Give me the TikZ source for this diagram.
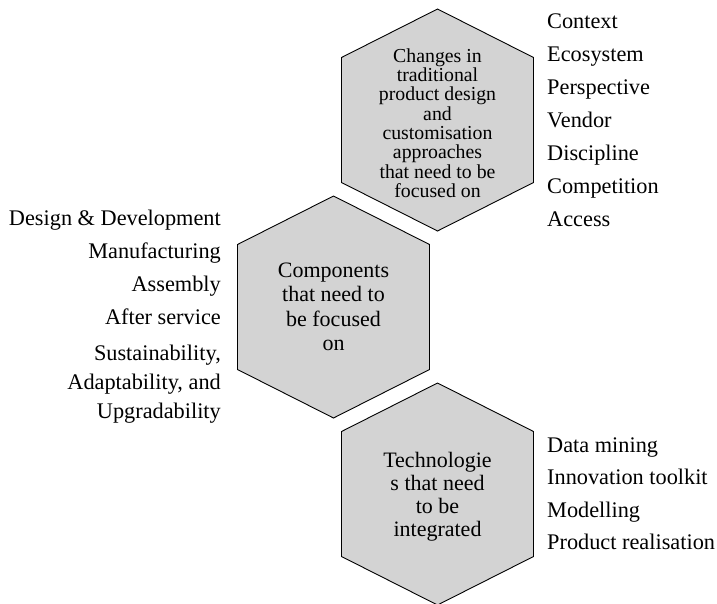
\documentclass[tikz,border=0pt]{standalone}
\usepackage{fontspec}
\setmainfont{Liberation Serif}
\usepackage{xcolor}
\usetikzlibrary{calc}

\definecolor{hexgray}{HTML}{D3D3D3}
\tikzset{
  hex/.style={draw=black, fill=hexgray, line width=0.9pt, line join=miter},
  hextext/.style={align=center, inner sep=0pt},
  item/.style={inner sep=0pt, font=\fontsize{22.3}{24}\selectfont}
}
% one stretched hexagon, pointy top, around a named coordinate
\newcommand{\hexat}[1]{%
  \draw[hex] ($(#1)+(0,-111)$) -- ($(#1)+(96,-62.5)$) -- ($(#1)+(96,62.5)$)
    -- ($(#1)+(0,111)$) -- ($(#1)+(-96,62.5)$) -- ($(#1)+(-96,-62.5)$) -- cycle;}

\begin{document}
\begin{tikzpicture}[x=1pt, y=-1pt]
\useasboundingbox (0,0) rectangle (717,603);
\coordinate (c1) at (437.5,120);
\coordinate (c2) at (333.5,307);
\coordinate (c3) at (437.5,494);
\hexat{c1}
\hexat{c2}
\hexat{c3}
\node[hextext, font=\fontsize{19.8}{19.3}\selectfont] (approaches) at ($(c1)+(0,3)$)
  {Changes in\\traditional\\product design\\and\\customisation\\approaches\\that need to be\\focused on};
\node[hextext, font=\fontsize{22}{24.5}\selectfont] (components) at (c2)
  {Components\\that need to\\be focused\\on};
\node[hextext, font=\fontsize{22}{23}\selectfont] (technologies) at ($(c3)+(0,3)$)
  {Technologie\\s that need\\to be\\integrated};
% right list, top
\node[item, anchor=base west] (context) at (547,28) {Context};
\node[item, anchor=base west] (ecosystem) at (547,61) {Ecosystem};
\node[item, anchor=base west] (perspective) at (547,94) {Perspective};
\node[item, anchor=base west] (vendor) at (547,127) {Vendor};
\node[item, anchor=base west] (discipline) at (547,160) {Discipline};
\node[item, anchor=base west] (competition) at (547,193) {Competition};
\node[item, anchor=base west] (access) at (547,226) {Access};
% left list
\node[item, anchor=base east] (design) at (221,225) {Design \& Development};
\node[item, anchor=base east] (manufacturing) at (221,258) {Manufacturing};
\node[item, anchor=base east] (assembly) at (221,291) {Assembly};
\node[item, anchor=base east] (afterservice) at (221,324) {After service};
\node[item, anchor=base east] (sustain) at (221,360) {Sustainability,};
\node[item, anchor=base east] (adapt) at (221,389) {Adaptability, and};
\node[item, anchor=base east] (upgrade) at (221,418) {Upgradability};
% right list, bottom
\node[item, anchor=base west] (datamining) at (547,452) {Data mining};
\node[item, anchor=base west] (toolkit) at (547,484) {Innovation toolkit};
\node[item, anchor=base west] (modelling) at (547,517) {Modelling};
\node[item, anchor=base west] (realisation) at (547,549) {Product realisation};
\end{tikzpicture}
\end{document}
